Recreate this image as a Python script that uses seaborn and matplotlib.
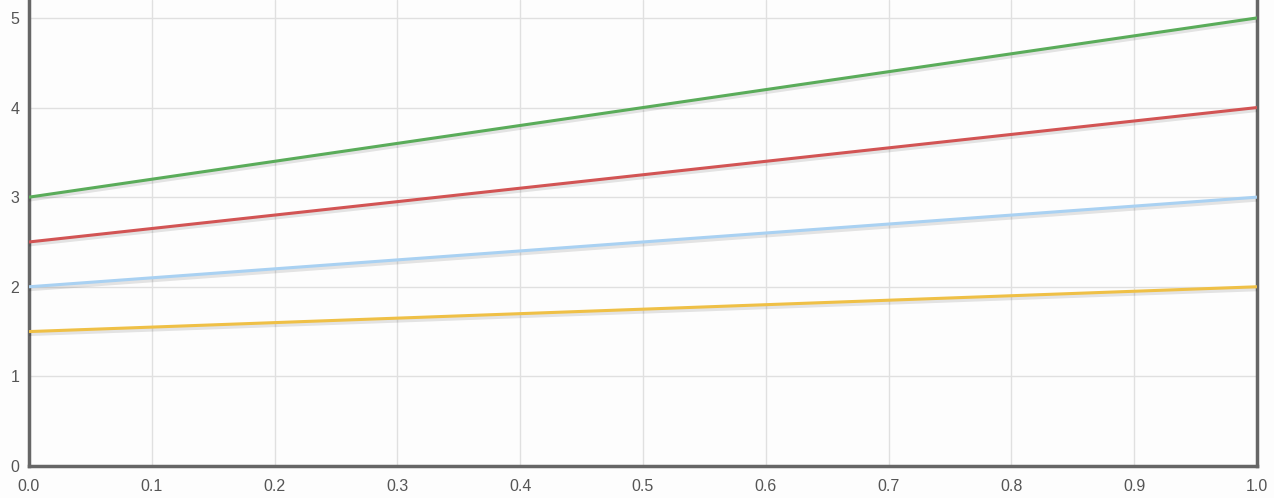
import matplotlib
matplotlib.use("Agg")
import matplotlib.pyplot as plt
import matplotlib.patheffects as pe
import seaborn as sns
import pandas as pd

x = [0.0, 1.0]
green = [3.0, 5.0]
red = [2.5, 4.0]
blue = [2.0, 3.0]
yellow = [1.5, 2.0]
x_ticks = [0.0, 0.1, 0.2, 0.3, 0.4, 0.5, 0.6, 0.7, 0.8, 0.9, 1.0]
y_ticks = [0, 1, 2, 3, 4, 5]

sns.set_theme(style="white")
plt.rcParams['font.family'] = ['Liberation Sans', 'DejaVu Sans']

fig = plt.figure(figsize=(12.74, 4.98), dpi=100, facecolor="#fdfdfd")
ax = fig.add_axes([29/1274, 32/498, (1257-29)/1274, 466/498])
ax.set_facecolor("#fdfdfd")

series = [("green", green, "#5aac5a"), ("red", red, "#d25454"),
          ("blue", blue, "#a9d1f2"), ("yellow", yellow, "#efc046")]
for name, vals, col in series:
    df = pd.DataFrame({"x": x, "y": vals})
    sns.lineplot(data=df, x="x", y="y", ax=ax, color=col, linewidth=2.2, zorder=3)
for ln in ax.lines:
    ln.set_path_effects([pe.SimpleLineShadow(offset=(0, -1.5), shadow_color="#000000", alpha=0.1, linewidth=3.5), pe.Normal()])

ax.set_xlim(0, 1)
ax.set_ylim(0, 5.2)
ax.set_xticks(x_ticks)
ax.set_xticklabels([f"{v:.1f}" for v in x_ticks])
ax.set_yticks(y_ticks)
ax.set_xlabel("")
ax.set_ylabel("")
ax.grid(True, color="#e0e0e0", linewidth=1)
ax.set_axisbelow(True)
for s in ["left", "bottom", "right"]:
    ax.spines[s].set_color("#666666")
    ax.spines[s].set_linewidth(2.5)
ax.spines["top"].set_visible(False)
ax.tick_params(axis="both", length=0, labelsize=11.5, colors="#555555")
ax.tick_params(axis="x", pad=9)
ax.tick_params(axis="y", pad=7)

fig.savefig("out.png", dpi=100, facecolor=fig.get_facecolor())
